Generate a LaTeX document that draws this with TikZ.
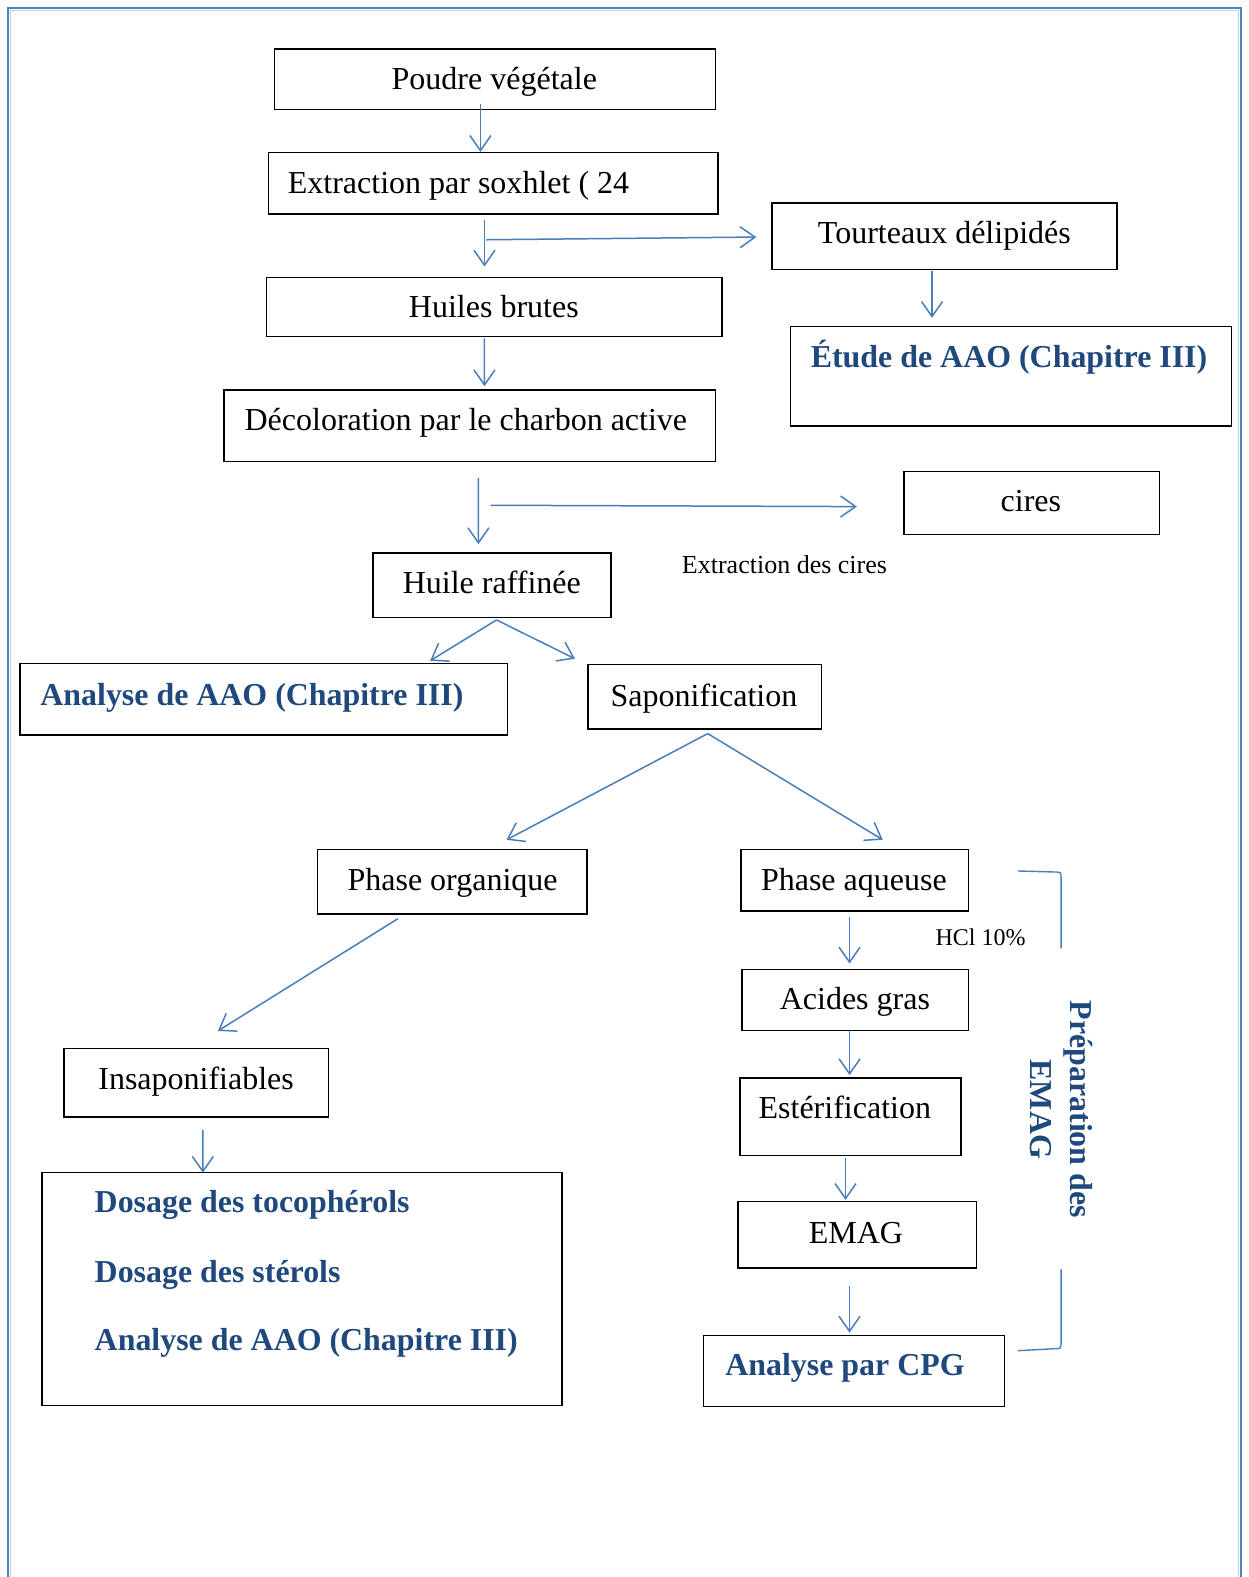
\documentclass[tikz,border=0pt]{standalone}
\usepackage{fontspec}
\setmainfont{Liberation Serif}
\usetikzlibrary{arrows.meta,calc}
\definecolor{arrblue}{RGB}{74,126,187}
\definecolor{txtblue}{RGB}{31,73,125}
\definecolor{frameblue}{RGB}{79,129,189}
\definecolor{framelight}{RGB}{190,208,232}
\newcommand\mybox[5]{\node[boxst,minimum width={(#4-#2)*1.0056pt},minimum height={(#5-#3)*1.0056pt}] (#1) at (#2,#3) {};}
\begin{document}
\begin{tikzpicture}[x=1.0056pt,y=-1.0056pt,
  boxst/.style={draw=black, line width=1.4pt, anchor=north west, inner sep=0pt},
  txt/.style={font=\fontsize{32}{38}\selectfont, inner sep=0pt},
  btxt/.style={font=\fontsize{31.9}{38}\selectfont\bfseries, text=txtblue, inner sep=0pt},
  small/.style={font=\fontsize{26}{30}\selectfont, inner sep=0pt},
  arr/.style={draw=arrblue, line width=1.5pt, -{Straight Barb[length=15pt,width=21pt,line width=1.5pt]}},
  brk/.style={draw=arrblue, line width=1.4pt}]
\useasboundingbox (0,0) rectangle (1241,1568);
% frame
\draw[framelight, line width=1.5pt] (10.5,1570) -- (10.5,10.5) -- (1231.5,10.5) -- (1231.5,1570);
\draw[frameblue, line width=2pt] (8,1570) -- (8,8) -- (1234,8) -- (1234,1570);
% boxes
\mybox{poudre}{272}{48}{711}{108}
\mybox{extract}{266}{151}{713}{212}
\mybox{tourt}{767}{201}{1110}{267}
\mybox{etude}{785}{324}{1224}{423}
\mybox{huiles}{264}{275}{717}{334}
\mybox{deco}{222}{387}{711}{458}
\mybox{cires}{898}{468}{1152}{531}
\mybox{raff}{370}{549}{607}{613}
\mybox{anaA}{19}{659}{504}{730}
\mybox{sapon}{584}{660}{816}{724}
\mybox{phorg}{315}{844}{583}{908}
\mybox{phaq}{736}{844}{962}{905}
\mybox{acid}{737}{963}{962}{1024}
\mybox{ester}{735}{1071}{955}{1148}
\mybox{emag}{733}{1194}{970}{1260}
\mybox{cpg}{699}{1327}{998}{1398}
\mybox{insap}{63}{1042}{326}{1110}
\mybox{dosage}{41}{1165}{558}{1397}
% texts
\node[txt,anchor=base] (poudre-t) at (491.5,89) {Poudre végétale};
\node[txt,anchor=base west] (extract-t) at (286,192) {Extraction par soxhlet ( 24};
\node[txt,anchor=base] (tourt-t) at (939,242) {Tourteaux délipidés};
\node[btxt,anchor=base west] (etude-t) at (806,365) {Étude de AAO (Chapitre III)};
\node[txt,anchor=base] (huiles-t) at (491,316) {Huiles brutes};
\node[txt,anchor=base west] (deco-t) at (243,428) {Décoloration par le charbon active};
\node[txt,anchor=base] (cires-t) at (1025,509) {cires};
\node[txt,anchor=base] (raff-t) at (489,590) {Huile raffinée};
\node[btxt,anchor=base west] (anaA-t) at (40,701) {Analyse de AAO (Chapitre III)};
\node[txt,anchor=base] (sapon-t) at (700,702) {Saponification};
\node[txt,anchor=base] (phorg-t) at (450,885) {Phase organique};
\node[txt,anchor=base] (phaq-t) at (849,885) {Phase aqueuse};
\node[txt,anchor=base] (acid-t) at (850,1004) {Acides gras};
\node[txt,anchor=base] (ester-t) at (840,1112) {Estérification};
\node[txt,anchor=base] (emag-t) at (851,1236) {EMAG};
\node[btxt,anchor=base west] (cpg-t) at (721,1368) {Analyse par CPG};
\node[txt,anchor=base] (insap-t) at (195,1083) {Insaponifiables};
\node[btxt,anchor=base west] (dos1) at (94,1206) {Dosage des tocophérols};
\node[btxt,anchor=base west] (dos2) at (94,1275) {Dosage des stérols};
\node[btxt,anchor=base west] (dos3) at (94,1343) {Analyse de AAO (Chapitre III)};
\node[small,anchor=base] (extcires) at (780,570) {Extraction des cires};
\node[font=\fontsize{24}{28}\selectfont,inner sep=0pt,anchor=base] (hcl) at (975,940) {HCl 10\%};
\node[font=\fontsize{31.9}{40}\selectfont\bfseries, text=txtblue, inner sep=0pt, align=center, rotate=-90] (prep) at (1055,1103) {Préparation des\\EMAG};
% arrows
\draw[arr] ($(poudre.south)+(-14.5,-6)$) -- ($(extract.north)+(-12.5,0)$);
\draw[arr] ($(extract.south)+(-8.5,5)$) -- ($(huiles.north)+(-9.5,-10)$);
\draw[arr] ($(extract.south)+(-6.5,25)$) -- ($(tourt.west)+(-15,1)$);
\draw[arr] ($(tourt.south)+(-12.5,1)$) -- ($(etude.north)+(-78.5,-8)$);
\draw[arr] ($(huiles.south)+(-9.5,1)$) -- ($(deco.north)+(14.5,-3)$);
\draw[arr] ($(deco.south)+(8.5,16)$) -- ($(raff.north)+(-13.5,-8)$);
\draw[arr] ($(deco.south)+(20.5,43)$) -- ($(cires.west)+(-46,3.5)$);
\draw[arr] ($(raff.south)+(4.5,2)$) -- ($(anaA.north)+(165.5,-2)$);
\draw[arr] ($(raff.south)+(4.5,2)$) -- ($(sapon.north)+(-129,-5)$);
\draw[arr] ($(sapon.south)+(3,4)$) -- ($(phorg.north)+(54,-9)$);
\draw[arr] ($(sapon.south)+(3,4)$) -- ($(phaq.north)+(28,-9)$);
\draw[arr] ($(phorg.south)+(-54,4)$) -- ($(insap.north)+(21.5,-17)$);
\draw[arr] ($(insap.south)+(6.5,12)$) -- ($(dosage.north)+(-98.5,1)$);
\draw[arr] ($(phaq.south)+(-5,5)$) -- ($(acid.north)+(-5.5,-5)$);
\draw[arr] ($(acid.south)+(-5.5,0)$) -- ($(ester.north)+(-1,-2)$);
\draw[arr] ($(ester.south)+(-5,2)$) -- ($(emag.north)+(-11.5,-1)$);
\draw[arr] ($(emag.south)+(-7.5,17)$) -- ($(cpg.north)+(-4.5,-2)$);
% bracket
\draw[brk] (1012,866) -- (1048,867) .. controls (1055,867) .. (1055,874) -- (1055,943);
\draw[brk] (1055,1262) -- (1055,1334) .. controls (1055,1341) .. (1048,1341) -- (1012,1343);
\end{tikzpicture}
\end{document}
